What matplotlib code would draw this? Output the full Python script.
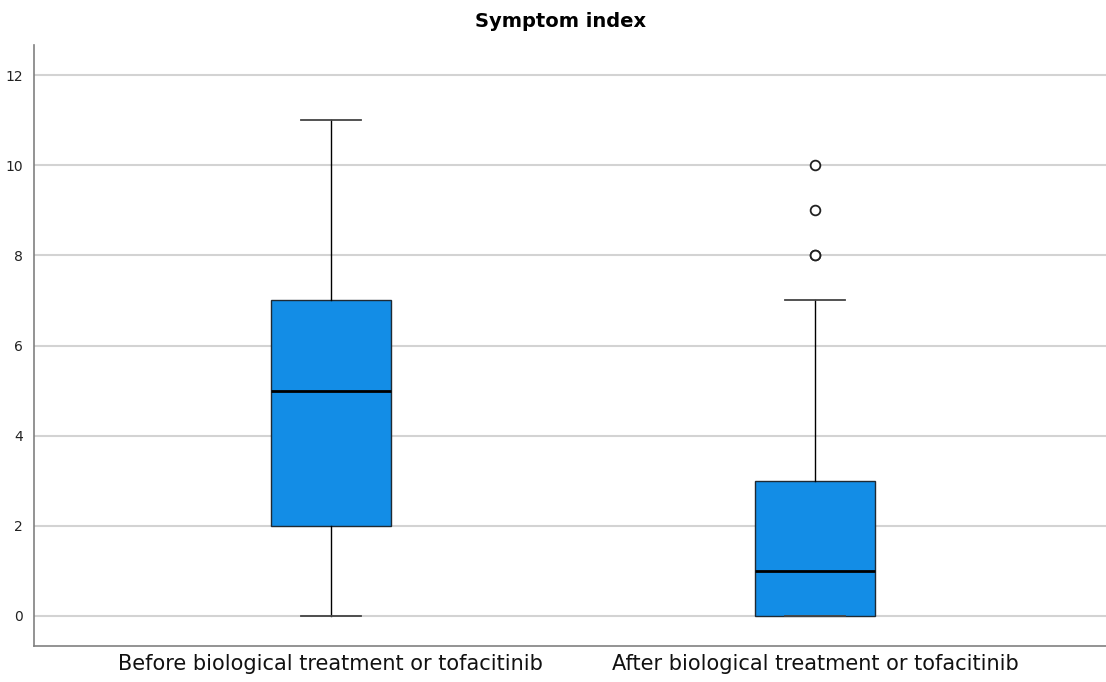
import matplotlib
matplotlib.use("Agg")
from matplotlib import pyplot as plt

# data
groups = ["Before biological treatment or tofacitinib",
          "After biological treatment or tofacitinib"]
whislo = [0, 0]
q1 = [2, 0]
med = [5, 1]
q3 = [7, 3]
whishi = [11, 7]
fliers = [[], [8, 8, 9, 10]]

stats = []
for i in range(len(groups)):
    stats.append({"label": groups[i], "whislo": whislo[i], "q1": q1[i],
                  "med": med[i], "q3": q3[i], "whishi": whishi[i],
                  "fliers": fliers[i]})

fig = plt.figure(figsize=(11.06, 6.82), dpi=100)
ax = fig.add_axes([0.0307, 0.0528, 0.9693, 0.8812])

ax.bxp(stats, positions=[1, 2], widths=0.248, patch_artist=True,
       boxprops=dict(facecolor="#138de6", edgecolor="#1f2a33", linewidth=1.0),
       medianprops=dict(color="black", linewidth=2.0),
       whiskerprops=dict(color="black", linewidth=1.0),
       capprops=dict(color="#444444", linewidth=1.3),
       capwidths=0.124,
       flierprops=dict(marker="o", markersize=7, markerfacecolor="white",
                       markeredgecolor="#222222", markeredgewidth=1.3))

ax.set_xlim(0.387, 2.601)
ax.set_ylim(-0.67, 12.67)
ax.set_yticks(range(0, 13, 2))
ax.yaxis.grid(True, color="#d3d3d3", linewidth=1.5)
ax.set_axisbelow(True)

for s in ["top", "right"]:
    ax.spines[s].set_visible(False)
for s in ["left", "bottom"]:
    ax.spines[s].set_color("#808080")
    ax.spines[s].set_linewidth(1.2)

ax.tick_params(axis="y", length=0, pad=8, labelsize=10, labelcolor="#222222")
ax.tick_params(axis="x", length=0, pad=6, labelsize=15, labelcolor="#111111")

ax.set_title("Symptom index", fontsize=14, fontweight="bold", pad=13, x=0.491)

fig.savefig("out.png", dpi=100)
